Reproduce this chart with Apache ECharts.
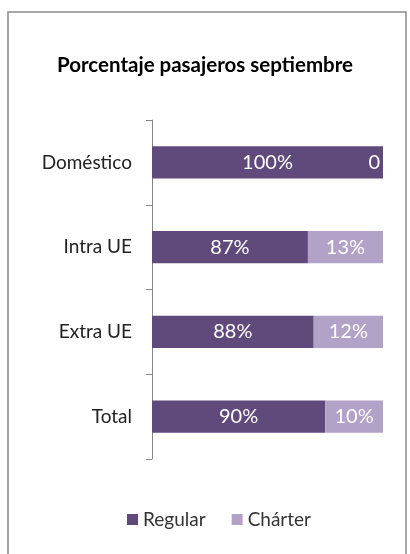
<!DOCTYPE html>
<html><head><meta charset="utf-8">
<script src="https://cdn.jsdelivr.net/npm/echarts@6/dist/echarts.min.js"></script>
<style>html,body{margin:0;padding:0;background:#fff}#c{width:410px;height:554px}</style>
</head><body><div id="c"></div>
<script>
const titleText = 'Porcentaje pasajeros septiembre';
const categories = ['Doméstico', 'Intra UE', 'Extra UE', 'Total'];
const regular = [100, 87, 88, 90];
const charter = [0, 13, 12, 10];
const seriesNames = ['Regular', 'Chárter'];
const FONT = 'Lato';
const chart = echarts.init(document.getElementById('c'), null, {renderer: 'canvas'});
const lbl = {show: true, position: 'inside', color: '#fff', fontFamily: FONT, fontSize: 20, formatter: p => p.value + '%'};
chart.setOption({
  animation: false,
  graphic: [{type: 'rect', shape: {x: 8, y: 12, width: 398, height: 560}, style: {fill: 'none', stroke: '#8a8a8a', lineWidth: 1.5}, z: 100, silent: true}],
  title: {text: titleText, left: 'center', top: 50, textStyle: {fontFamily: FONT, fontWeight: 'bold', fontSize: 20.5, color: '#000'}},
  legend: {bottom: 20, left: 122, itemWidth: 11, itemHeight: 11, itemGap: 26, icon: 'rect',
    textStyle: {fontFamily: FONT, fontSize: 19, color: '#333'}},
  grid: {left: 152, right: 27, top: 120, bottom: 95, containLabel: false},
  xAxis: {type: 'value', min: 60, max: 100, show: false},
  yAxis: {type: 'category', data: categories, inverse: true,
    axisLine: {show: true, lineStyle: {color: '#868686', width: 1}},
    axisTick: {show: true, length: 6, lineStyle: {color: '#868686'}},
    axisLabel: {margin: 20, fontFamily: FONT, fontSize: 19, color: '#222'}},
  series: [
    {name: seriesNames[0], type: 'bar', stack: 's', data: regular, barCategoryGap: '62%', itemStyle: {color: '#604A7B'}, label: lbl},
    {name: seriesNames[1], type: 'bar', stack: 's', itemStyle: {color: '#B3A2C7'},
      data: charter.map((v, i) => i === 0 ? {value: v, label: {show: true, position: 'insideRight', offset: [2, 0], width: 17, overflow: 'truncate', ellipsis: ''}} : v),
      label: lbl}
  ]
});
</script></body></html>
